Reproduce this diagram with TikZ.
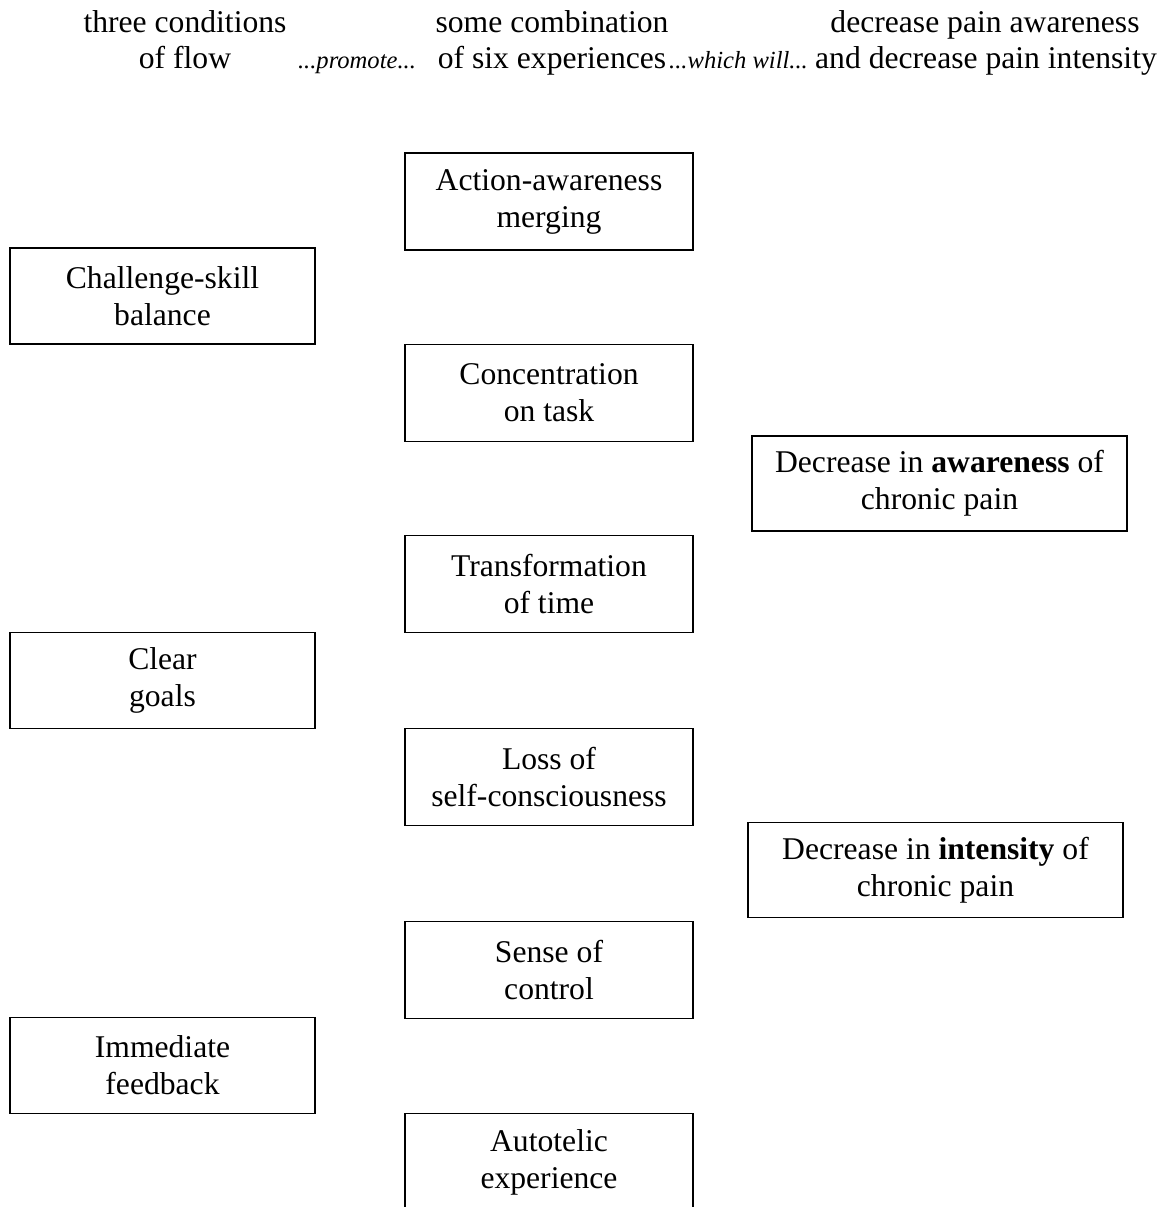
\documentclass[tikz,border=0pt]{standalone}
\usepackage{fontspec}
\setmainfont{Liberation Serif}
\usetikzlibrary{positioning}

\begin{document}
\begin{tikzpicture}[
    midbox/.style={rectangle, draw, line width=0.7pt, minimum width=5.76cm, minimum height=1.94cm, align=center, font=\fontsize{18}{21}\selectfont},
    leftbox/.style={midbox, minimum width=6.1cm, minimum height=1.92cm},
    rightbox/.style={midbox, minimum width=7.5cm, minimum height=1.9cm},
    head/.style={anchor=base, inner sep=0pt, font=\fontsize{18}{21}\selectfont},
    link/.style={anchor=base, inner sep=0pt, font=\fontsize{14}{16}\selectfont\itshape}
  ]
    \useasboundingbox (0,0) rectangle (23.46,-24.14);

    % column headings
    \node[head] (flowA) at (3.7,-0.66) {three conditions};
    \node[head] (flowB) at (3.7,-1.37) {of flow};
    \node[head] (expA) at (11.04,-0.66) {some combination};
    \node[head] (expB) at (11.04,-1.37) {of six experiences};
    \node[head] (painA) at (19.7,-0.66) {decrease pain awareness};
    \node[head] (painB) at (19.72,-1.37) {and decrease pain intensity};
    \node[link] (promote) at (7.14,-1.37) {...promote...};
    \node[link] (which) at (14.77,-1.37) {...which will...};

    % conditions
    \node[leftbox] (chal) at (3.25,-5.92) {Challenge-skill\\balance};
    \node[leftbox, below=5.75cm of chal] (goals) {Clear\\goals};
    \node[leftbox, below=5.75cm of goals] (feed) {Immediate\\feedback};

    % experiences
    \node[midbox] (merge) at (10.98,-4.03) {Action-awareness\\merging};
    \node[midbox, below=1.86cm of merge] (conc) {Concentration\\on task};
    \node[midbox, below=1.86cm of conc] (time) {Transformation\\of time};
    \node[midbox, below=1.89cm of time] (self) {Loss of\\self-consciousness};
    \node[midbox, below=1.9cm of self] (ctrl) {Sense of\\control};
    \node[midbox, below=1.88cm of ctrl] (auto) {Autotelic\\experience};

    % outcomes
    \node[rightbox] (aware) at (18.79,-9.67) {Decrease in \textbf{awareness} of\\chronic pain};
    \node[rightbox, below=5.81cm of aware, xshift=-0.08cm] (inten) {Decrease in \textbf{intensity} of\\chronic pain};
  \end{tikzpicture}
\end{document}
